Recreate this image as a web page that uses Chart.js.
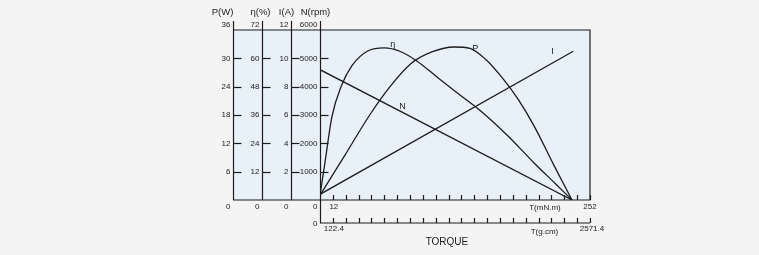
<!DOCTYPE html>
<html>
<head>
<meta charset="utf-8">
<script src="https://cdn.jsdelivr.net/npm/chart.js@4/dist/chart.umd.min.js"></script>
<style>
  html, body { margin: 0; padding: 0; background: #f4f4f4; }
  canvas { display: block; }
</style>
</head>
<body>
<canvas id="motor" width="759" height="255"></canvas>
<script>
// Motor performance curves versus load torque (mN.m)
const torqueEta = [0, 5, 11, 20, 30, 45, 60, 75, 90, 110, 130, 150, 175, 200, 220, 235.2];
const efficiency = [2, 17, 35, 48.4, 57, 63.2, 64.4, 62.9, 59, 51.8, 44.7, 37.7, 27.3, 15.6, 6.8, 0];

const torquePower = [0, 23.3, 46.4, 65, 85, 105, 125, 140, 155, 170, 185, 200, 218, 235.2];
const power = [1, 9.5, 18, 23.9, 28.9, 31.4, 32.4, 32.1, 29.7, 25.9, 21.3, 15.6, 7.5, 0];

const torqueSpeed = [0, 235.2];
const speed = [4600, 0];

const torqueCurrent = [0, 236.4];
const current = [0.4, 10.5];

// Axis tick labels
const powerTicks = [0, 6, 12, 18, 24, 30, 36];
const etaTicks = [0, 12, 24, 36, 48, 60, 72];
const currentTicks = [0, 2, 4, 6, 8, 10, 12];
const speedTicks = [0, 1000, 2000, 3000, 4000, 5000, 6000];
const torqueMax = 252;        // mN.m
const torqueStep = 12;        // mN.m
const torqueMaxGcm = 2571.4;  // g.cm
const torqueStepGcm = '122.4';

const pts = (xs, ys) => xs.map((x, i) => ({ x, y: ys[i] }));
const INK = '#1c1c1c';
const FONT = '"Liberation Sans", Arial, sans-serif';

const lineStyle = {
  borderColor: INK, borderWidth: 1.3, pointRadius: 0, fill: false,
  cubicInterpolationMode: 'monotone'
};

const motorAxes = {
  id: 'motorAxes',
  beforeDraw(chart) {
    const { ctx, chartArea: ca } = chart;
    const o = chart.options.plugins.motorAxes;
    ctx.save();
    ctx.fillStyle = '#f4f4f4';
    ctx.fillRect(0, 0, chart.width, chart.height);
    const left = ca.left + o.axes[0].offset;
    ctx.fillStyle = '#e8f0f9';
    ctx.fillRect(left, ca.top, ca.right - left, ca.bottom - ca.top);
    ctx.restore();
  },
  afterDatasetsDraw(chart) {
    const { ctx, chartArea: ca, scales } = chart;
    const o = chart.options.plugins.motorAxes;
    const px = Math.round;
    ctx.save();
    ctx.strokeStyle = INK;
    ctx.fillStyle = INK;
    ctx.lineWidth = 1.2;

    // outer frame of the plotting box
    const boxLeft = ca.left + o.axes[0].offset;
    ctx.beginPath();
    ctx.moveTo(boxLeft, ca.top); ctx.lineTo(ca.right, ca.top);
    ctx.lineTo(ca.right, ca.bottom); ctx.lineTo(boxLeft, ca.bottom);
    ctx.stroke();

    // vertical value axes on the left
    o.axes.forEach(ax => {
      const sc = scales[ax.scale];
      const x = px(ca.left + ax.offset) + 0.5;
      ctx.lineWidth = 1.2;
      ctx.beginPath();
      ctx.moveTo(x, ca.top - 9); ctx.lineTo(x, ca.bottom);
      ctx.stroke();

      ctx.font = '9.5px ' + FONT;
      ctx.textAlign = 'center';
      ctx.textBaseline = 'middle';
      ctx.fillText(ax.title, x + ax.titleDx, 12);

      ctx.font = '8px ' + FONT;
      ctx.textAlign = 'right';
      ax.ticks.forEach((v, i) => {
        const y = sc.getPixelForValue(v);
        if (i === 0) {
          ctx.fillText(String(v), x - 3, ca.bottom + 7);
        } else if (i === ax.ticks.length - 1) {
          ctx.fillText(String(v), x - 3, ca.top - 5);
        } else {
          ctx.beginPath();
          ctx.moveTo(x, px(y) + 0.5); ctx.lineTo(x + 8, px(y) + 0.5);
          ctx.stroke();
          ctx.fillText(String(v), x - 3, y);
        }
      });
    });

    // torque axes (mN.m on the frame, g.cm below)
    const xs = scales.x;
    const gcm = scales.xG;
    const y2 = ca.bottom + 23;
    const x0 = px(xs.getPixelForValue(0)) + 0.5;
    ctx.lineWidth = 1.2;
    ctx.beginPath();
    ctx.moveTo(x0, ca.bottom); ctx.lineTo(x0, y2);
    ctx.lineTo(px(xs.getPixelForValue(torqueMax)), y2);
    ctx.stroke();
    const nSteps = Math.round(torqueMax / torqueStep);
    for (let k = 1; k <= nSteps; k++) {
      const tx = px(xs.getPixelForValue(k * torqueStep)) + 0.5;
      ctx.beginPath();
      ctx.moveTo(tx, ca.bottom); ctx.lineTo(tx, ca.bottom - 5);
      const gx = px(gcm.getPixelForValue(k * torqueMaxGcm / nSteps)) + 0.5;
      ctx.moveTo(gx, y2); ctx.lineTo(gx, y2 - 5);
      ctx.stroke();
    }

    ctx.font = '8px ' + FONT;
    ctx.textAlign = 'center';
    ctx.textBaseline = 'middle';
    ctx.fillText(String(torqueStep), xs.getPixelForValue(torqueStep) + 1, ca.bottom + 7);
    ctx.fillText(String(torqueMax), xs.getPixelForValue(torqueMax), ca.bottom + 7);
    ctx.fillText('T(mN.m)', xs.getPixelForValue(210), ca.bottom + 8);
    ctx.textAlign = 'right';
    ctx.fillText('0', x0 - 3, y2 + 1);
    ctx.textAlign = 'center';
    ctx.fillText(torqueStepGcm, gcm.getPixelForValue(torqueMaxGcm / nSteps) + 1, y2 + 6);
    ctx.fillText(String(torqueMaxGcm), gcm.getPixelForValue(torqueMaxGcm) + 2, y2 + 6);
    ctx.fillText('T(g.cm)', gcm.getPixelForValue(2138), y2 + 9);
    ctx.font = '10px ' + FONT;
    ctx.fillText('TORQUE', xs.getPixelForValue(118.5), y2 + 19);

    // curve names
    ctx.font = '9px ' + FONT;
    o.tags.forEach(t => {
      ctx.fillText(t.text, xs.getPixelForValue(t.x), scales[t.scale].getPixelForValue(t.y));
    });
    ctx.restore();
  }
};

new Chart(document.getElementById('motor'), {
  type: 'line',
  data: {
    datasets: [
      { label: 'η', data: pts(torqueEta, efficiency), yAxisID: 'yEta', ...lineStyle },
      { label: 'P', data: pts(torquePower, power), yAxisID: 'yP', ...lineStyle },
      { label: 'N', data: pts(torqueSpeed, speed), yAxisID: 'yN', ...lineStyle, cubicInterpolationMode: 'default' },
      { label: 'I', data: pts(torqueCurrent, current), yAxisID: 'yI', ...lineStyle, cubicInterpolationMode: 'default' }
    ]
  },
  options: {
    responsive: false,
    animation: false,
    devicePixelRatio: 1,
    layout: { padding: { left: 320, right: 169, top: 30, bottom: 55 } },
    scales: {
      x: { type: 'linear', min: 0, max: torqueMax, display: false },
      xG: { type: 'linear', axis: 'x', min: 0, max: torqueMaxGcm, display: false },
      yP: { type: 'linear', min: 0, max: 36, display: false },
      yEta: { type: 'linear', min: 0, max: 72, display: false },
      yI: { type: 'linear', min: 0, max: 12, display: false },
      yN: { type: 'linear', min: 0, max: 6000, display: false }
    },
    plugins: {
      legend: { display: false },
      tooltip: { enabled: false },
      motorAxes: {
        axes: [
          { scale: 'yP', title: 'P(W)', offset: -87, titleDx: -11, ticks: powerTicks },
          { scale: 'yEta', title: 'η(%)', offset: -58, titleDx: -2, ticks: etaTicks },
          { scale: 'yI', title: 'I(A)', offset: -29, titleDx: -5, ticks: currentTicks },
          { scale: 'yN', title: 'N(rpm)', offset: 0, titleDx: -5, ticks: speedTicks }
        ],
        tags: [
          { text: 'η', scale: 'yEta', x: 68, y: 66 },
          { text: 'P', scale: 'yP', x: 145, y: 32 },
          { text: 'I', scale: 'yI', x: 217, y: 10.5 },
          { text: 'N', scale: 'yN', x: 77, y: 3300 }
        ]
      }
    }
  },
  plugins: [motorAxes]
});
</script>
</body>
</html>
